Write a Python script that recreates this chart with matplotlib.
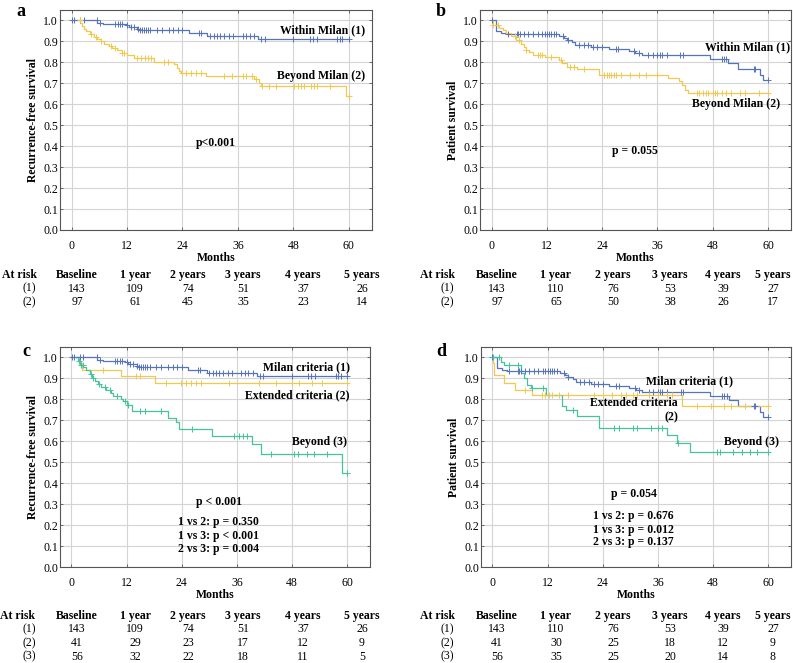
import numpy as np
import matplotlib
matplotlib.use("Agg")
import matplotlib.pyplot as plt

plt.rcParams['font.family'] = ['Liberation Serif', 'DejaVu Serif']

W, H = 793, 663

BLUE = '#5674bd'
YELLOW = '#f2c84e'
GREEN = '#45c39a'

# ---- panel a / c : recurrence-free survival, Milan criteria (1)
rfs_milan_t = [0, 5.6, 6.9, 11.7, 12.4, 14.2, 14.6, 25.4, 29.4, 40.3, 60]
rfs_milan_s = [1.0, 0.99, 0.985, 0.98, 0.97, 0.96, 0.955, 0.94, 0.925, 0.91, 0.91]
rfs_milan_c = [0.1, 0.5, 1.9, 2.6, 5.5, 6.2, 9.5, 10.0, 10.5, 11.0, 12.0, 12.8, 13.5, 14.3,
               14.8, 15.2, 15.6, 16.0, 16.5, 17.0, 18.5, 19.5, 21.0, 22.0, 23.0, 24.0,
               27.5, 28.0, 30.0, 30.8, 31.5, 32.2, 33.0, 34.0, 35.0, 37.0, 37.8, 38.5,
               39.5, 41.0, 41.8, 48.0, 51.5, 52.2, 53.0, 57.5, 58.0, 58.6, 60.0]

# ---- panel a : beyond Milan (2)
rfs_beyond_t = [1.6, 1.9, 2.2, 2.6, 3.1, 4.0, 4.9, 5.6, 6.3, 7.0, 8.1, 8.8, 9.9, 11.0, 12.1,
                13.5, 17.9, 22.2, 22.9, 23.2, 23.6, 29.0, 39.5, 40.5, 41.0, 59.3, 60]
rfs_beyond_s = [1.0, 0.987, 0.975, 0.96, 0.95, 0.935, 0.92, 0.91, 0.9, 0.89, 0.88, 0.87,
                0.86, 0.845, 0.835, 0.82, 0.80, 0.79, 0.775, 0.76, 0.75, 0.735, 0.72, 0.70,
                0.685, 0.64, 0.64]
rfs_beyond_c = [1.8, 4.2, 5.3, 6.4, 8.6, 9.3, 11.0, 11.3, 14.2, 15.0, 15.8, 16.5, 17.2,
                20.0, 20.8, 24.0, 24.8, 25.8, 26.9, 28.0, 33.0, 34.8, 37.0, 37.7, 39.1, 39.8,
                41.2, 42.8, 44.2, 48.2, 48.9, 49.6, 50.3, 51.7, 52.4, 53.1, 56.0, 60.0]

# ---- panel b / d : patient survival, Milan criteria (1)
os_milan_t = [0, 0.9, 2.0, 3.1, 14.6, 15.7, 16.4, 17.5, 18.2, 21.5, 25.4, 29.8, 31.2, 32.6,
              47.4, 51.4, 53.5, 58.2, 59.0, 60]
os_milan_s = [1.0, 0.95, 0.94, 0.935, 0.925, 0.915, 0.905, 0.895, 0.885, 0.875, 0.865,
              0.855, 0.845, 0.835, 0.815, 0.795, 0.77, 0.74, 0.715, 0.715]
os_milan_c = [0.0, 3.5, 5.5, 5.8, 6.2, 7.0, 8.0, 9.0, 10.0, 11.0, 11.5, 12.0, 12.5, 13.0,
              13.5, 14.0, 15.5, 16.5, 19.0, 20.0, 21.0, 22.0, 23.0, 24.0, 27.0, 27.5, 31.0,
              32.0, 34.0, 35.0, 36.0, 36.5, 37.0, 38.0, 41.0, 41.5, 50.0, 50.5, 51.0, 57.0,
              57.2, 60.0]

# ---- panel b : beyond Milan (2)
os_beyond_t = [0, 0.3, 1.7, 2.4, 3.1, 4.2, 5.3, 6.3, 7.0, 7.4, 8.1, 8.9, 11.7, 14.6, 15.3,
               16.4, 18.6, 23.3, 38.4, 40.6, 41.3, 42.0, 42.7, 60]
os_beyond_s = [1.0, 0.98, 0.965, 0.955, 0.94, 0.925, 0.905, 0.89, 0.875, 0.86, 0.85, 0.835,
               0.825, 0.81, 0.795, 0.78, 0.77, 0.74, 0.725, 0.71, 0.69, 0.67, 0.655, 0.655]
os_beyond_c = [0.3, 1.5, 5.0, 6.0, 7.5, 10.0, 10.5, 11.0, 13.0, 15.0, 17.0, 18.0, 20.0,
               24.5, 25.0, 25.5, 26.0, 26.5, 27.0, 28.0, 30.0, 32.0, 33.5, 36.0, 44.5, 45.0,
               46.0, 46.5, 47.0, 48.0, 48.5, 49.0, 50.0, 51.0, 52.0, 54.0, 55.0, 58.0, 60.0]

# ---- panel c : extended criteria (2), beyond (3)
rfs_ext_t = [1.5, 1.8, 2.2, 10.7, 18.1, 60]
rfs_ext_s = [1.0, 0.975, 0.94, 0.91, 0.876, 0.876]
rfs_ext_c = [6.9, 14.1, 14.9, 20.6, 23.9, 25.0, 26.1, 27.2, 28.2, 34.4, 40.9, 44.5, 48.1,
             49.6, 52.4, 54.6, 60.0]

rfs_bey3_t = [0, 1.4, 1.8, 2.5, 3.1, 4.0, 4.4, 5.1, 5.8, 6.5, 7.6, 8.7, 9.0, 10.8, 11.2, 12.1,
              13.2, 21.0, 22.8, 23.4, 30.7, 39.4, 41.2, 58.9, 60]
rfs_bey3_s = [1.0, 0.985, 0.965, 0.955, 0.94, 0.92, 0.9, 0.89, 0.875, 0.86, 0.845, 0.83,
              0.815, 0.80, 0.79, 0.775, 0.745, 0.71, 0.69, 0.66, 0.625, 0.585, 0.54, 0.45, 0.45]
rfs_bey3_c = [1.6, 2.0, 2.4, 4.2, 4.6, 6.0, 7.2, 8.3, 9.9, 11.6, 12.2, 15.0, 16.0, 19.5,
              26.3, 35.4, 36.5, 37.4, 38.2, 43.5, 48.5, 49.3, 51.3, 52.8, 55.6, 60.0]

# ---- panel d : extended criteria (2), beyond (3)
os_ext_t = [0, 0.2, 0.4, 2.6, 4.8, 8.7, 41.2, 60]
os_ext_s = [1.0, 0.975, 0.915, 0.88, 0.845, 0.82, 0.77, 0.77]
os_ext_c = [7.0, 10.8, 11.5, 12.3, 13.0, 14.5, 16.5, 22.0, 24.0, 26.0, 28.0, 29.0, 30.5,
            31.5, 34.0, 36.0, 38.0, 39.0, 44.5, 47.5, 50.5, 52.0, 55.0, 60.0]

os_bey3_t = [0, 1.9, 2.6, 6.2, 6.9, 7.6, 8.3, 11.6, 15.2, 16.0, 18.5, 23.2, 38.0, 40.1, 43.0, 60]
os_bey3_s = [1.0, 0.98, 0.963, 0.924, 0.90, 0.868, 0.852, 0.82, 0.77, 0.75, 0.72, 0.665,
             0.63, 0.59, 0.55, 0.55]
os_bey3_c = [0.2, 1.5, 3.5, 5.5, 8.5, 11.0, 17.5, 26.5, 27.5, 30.5, 31.5, 34.5, 36.0, 37.0,
             40.5, 48.8, 49.5, 52.3, 54.3, 56.0, 57.5, 60.0]

# ---- numbers at risk
risk_cols = ['Baseline', '1 year', '2 years', '3 years', '4 years', '5 years']
risk_a = [[143, 109, 74, 51, 37, 26], [97, 61, 45, 35, 23, 14]]
risk_b = [[143, 110, 76, 53, 39, 27], [97, 65, 50, 38, 26, 17]]
risk_c = [[143, 109, 74, 51, 37, 26], [41, 29, 23, 17, 12, 9], [56, 32, 22, 18, 11, 5]]
risk_d = [[143, 110, 76, 53, 39, 27], [41, 30, 25, 18, 12, 9], [56, 35, 25, 20, 14, 8]]


def fx(x):
    return x / W


def fy(y):
    return 1 - y / H


def km(ax, t, s, cens, color):
    t = np.asarray(t)
    s = np.asarray(s)
    ax.step(t, s, where='post', color=color, lw=0.9, zorder=3)
    c = np.asarray(cens)
    idx = np.searchsorted(t, c, side='right') - 1
    idx = np.clip(idx, 0, len(s) - 1)
    ax.plot(c, s[idx], ls='none', marker='+', ms=4.5, mew=0.7, color=color, zorder=4)


def setup(ax, ylabel):
    ax.set_xlim(-2.5, 65)
    ax.set_ylim(0, 1.05)
    ax.set_xticks([0, 12, 24, 36, 48, 60])
    ax.set_yticks(np.arange(0, 1.01, 0.1))
    ax.set_yticklabels(['%.1f' % v for v in np.arange(0, 1.01, 0.1)])
    ax.grid(True, color='#d4d4d4', lw=0.8)
    ax.set_axisbelow(True)
    for sp in ax.spines.values():
        sp.set_color('#555555')
        sp.set_linewidth(0.8)
    ax.tick_params(labelsize=8.5, length=2.5, width=0.6, color='#555555',
                   direction='in', top=True, right=True)
    ax.tick_params(axis='x', pad=7)
    ax.tick_params(axis='y', pad=1.5)
    ax.set_xlabel('Months', fontsize=8.5, fontweight='bold', labelpad=0)
    ax.set_ylabel(ylabel, fontsize=8.5, fontweight='bold', labelpad=3)


def risk_table(rows, at_x, col_x, lab_x, y0, dy=13.5):
    fig.text(fx(at_x), fy(y0), 'At risk', ha='center', va='center', fontsize=8.5,
             fontweight='bold')
    for x, name in zip(col_x, risk_cols):
        fig.text(fx(x), fy(y0), name, ha='center', va='center', fontsize=8.5,
                 fontweight='bold')
    for i, row in enumerate(rows):
        y = y0 + dy * (i + 1)
        fig.text(fx(lab_x), fy(y), '(%d)' % (i + 1), ha='center', va='center', fontsize=8.5)
        for x, v in zip(col_x, row):
            fig.text(fx(x), fy(y), str(v), ha='center', va='center', fontsize=8.5)


fig = plt.figure(figsize=(W / 100, H / 100), dpi=100)

ax_a = fig.add_axes([fx(60), fy(230), 312 / W, 220 / H])
ax_b = fig.add_axes([fx(480), fy(230), 311 / W, 220 / H])
ax_c = fig.add_axes([fx(60), fy(567), 310 / W, 220 / H])
ax_d = fig.add_axes([fx(481), fy(567), 310 / W, 220 / H])

kw = dict(fontsize=8.5, fontweight='bold', va='center')

# a
setup(ax_a, 'Recurrence-free survival')
km(ax_a, rfs_milan_t, rfs_milan_s, rfs_milan_c, BLUE)
km(ax_a, rfs_beyond_t, rfs_beyond_s, rfs_beyond_c, YELLOW)
ax_a.text(63.6, 0.952, 'Within Milan (1)', ha='right', **kw)
ax_a.text(63.6, 0.736, 'Beyond Milan (2)', ha='right', **kw)
ax_a.text(31.2, 0.417, 'p<0.001', ha='center', **kw)

# b
setup(ax_b, 'Patient survival')
km(ax_b, os_milan_t, os_milan_s, os_milan_c, BLUE)
km(ax_b, os_beyond_t, os_beyond_s, os_beyond_c, YELLOW)
ax_b.text(64.8, 0.871, 'Within Milan (1)', ha='right', **kw)
ax_b.text(62.6, 0.603, 'Beyond Milan (2)', ha='right', **kw)
ax_b.text(31.2, 0.379, 'p = 0.055', ha='center', **kw)

# c
setup(ax_c, 'Recurrence-free survival')
km(ax_c, rfs_milan_t, rfs_milan_s, rfs_milan_c, BLUE)
km(ax_c, rfs_ext_t, rfs_ext_s, rfs_ext_c, YELLOW)
km(ax_c, rfs_bey3_t, rfs_bey3_s, rfs_bey3_c, GREEN)
ax_c.text(60.6, 0.951, 'Milan criteria (1)', ha='right', **kw)
ax_c.text(60.6, 0.82, 'Extended criteria (2)', ha='right', **kw)
ax_c.text(60.0, 0.595, 'Beyond (3)', ha='right', **kw)
ax_c.text(32.2, 0.312, 'p < 0.001', ha='center', **kw)
ax_c.text(32.0, 0.216, '1 vs 2: p = 0.350', ha='center', **kw)
ax_c.text(32.0, 0.148, '1 vs 3: p < 0.001', ha='center', **kw)
ax_c.text(32.0, 0.084, '2 vs 3: p = 0.004', ha='center', **kw)

# d
setup(ax_d, 'Patient survival')
km(ax_d, os_milan_t, os_milan_s, os_milan_c, BLUE)
km(ax_d, os_ext_t, os_ext_s, os_ext_c, YELLOW)
km(ax_d, os_bey3_t, os_bey3_s, os_bey3_c, GREEN)
ax_d.text(42.9, 0.887, 'Milan criteria (1)', ha='center', **kw)
ax_d.text(40.3, 0.784, 'Extended criteria', ha='right', **kw)
ax_d.text(38.9, 0.714, '(2)', ha='center', **kw)
ax_d.text(62.3, 0.595, 'Beyond (3)', ha='right', **kw)
ax_d.text(30.7, 0.348, 'p = 0.054', ha='center', **kw)
ax_d.text(30.7, 0.245, '1 vs 2: p = 0.676', ha='center', **kw)
ax_d.text(30.7, 0.176, '1 vs 3: p = 0.012', ha='center', **kw)
ax_d.text(30.7, 0.118, '2 vs 3: p = 0.137', ha='center', **kw)

# panel letters
for (x, y), lab in zip([(21, 12), (441, 12), (26, 352), (441, 352)], 'abcd'):
    fig.text(fx(x), fy(y), lab, ha='center', va='center', fontsize=13, fontweight='bold')

# at risk tables
cols_left = [77, 135, 188, 243, 303, 362]
cols_right = [497, 556, 613, 670, 723, 773]
risk_table(risk_a, 19, cols_left, 29, 275)
risk_table(risk_b, 437, cols_right, 447, 275)
risk_table(risk_c, 18, cols_left, 29, 616)
risk_table(risk_d, 437, cols_right, 447, 616)

fig.savefig('out.png', dpi=100)
